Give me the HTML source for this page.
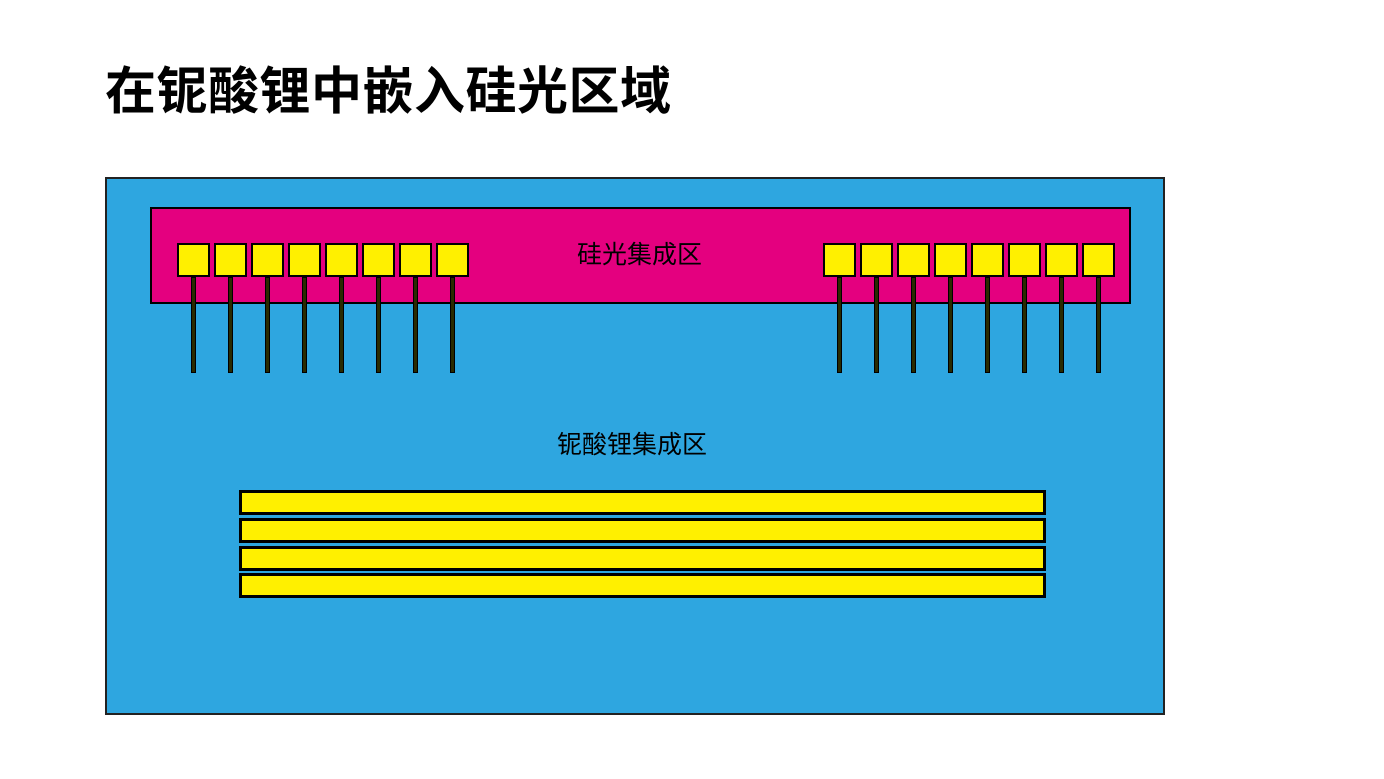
<!DOCTYPE html>
<html><head><meta charset="utf-8"><style>
html,body{margin:0;padding:0;background:#fff;width:1384px;height:779px;overflow:hidden;position:relative;font-family:"Liberation Sans","Noto Sans CJK SC",sans-serif}
.a{position:absolute;box-sizing:border-box}
.t{position:absolute;white-space:nowrap;line-height:1}
.sq{background:#fff000;border:2px solid #000;width:33px;height:34px;top:243px}
.pin{background:#2a2a00;width:5px;top:277px;height:96px;border:1px solid #000}
.bar{background:#fff000;border:3px solid #000;left:239px;width:807px;height:25px}
</style></head><body>
<div class="t" style="left:105px;top:66px;font-size:51px;font-weight:bold;letter-spacing:0.5px">在铌酸锂中嵌入硅光区域</div>
<div class="a" style="left:105px;top:177px;width:1060px;height:538px;background:#2ea6e0;border:2px solid #222"></div>
<div class="a" style="left:150px;top:207px;width:981px;height:97px;background:#e4007f;border:2px solid #000"></div>
<div class="t" style="left:577px;top:243px;font-size:25px">硅光集成区</div>
<div class="t" style="left:557px;top:433px;font-size:25px">铌酸锂集成区</div>
<div id="p"></div>
<div class="a bar" style="top:490px"></div>
<div class="a bar" style="top:518px"></div>
<div class="a bar" style="top:546px"></div>
<div class="a bar" style="top:573px"></div>
<script>
var h='';
[177,823].forEach(function(s){for(var i=0;i<8;i++){var x=s+i*37;
h+='<div class="a pin" style="left:'+(x+14)+'px"></div><div class="a sq" style="left:'+x+'px"></div>';}});
document.getElementById('p').innerHTML=h;
</script>
</body></html>
